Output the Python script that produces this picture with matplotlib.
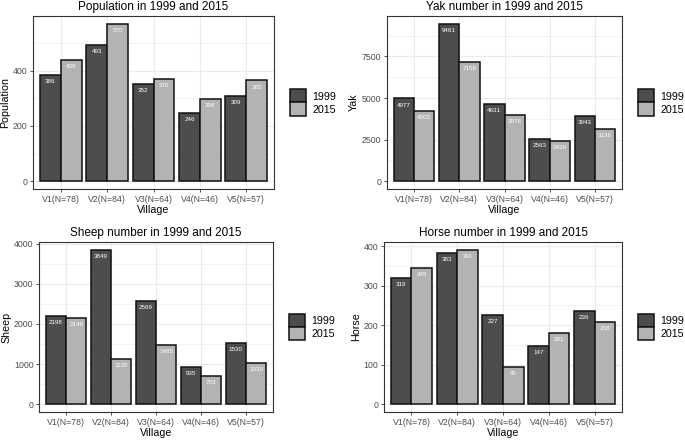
import numpy as np
import matplotlib.pyplot as plt
from matplotlib.patches import Patch
from matplotlib.ticker import AutoMinorLocator

plt.rcParams['font.family'] = ['Liberation Sans', 'DejaVu Sans']

villages = ["V1(N=78)", "V2(N=84)", "V3(N=64)", "V4(N=46)", "V5(N=57)"]
years = ["1999", "2015"]

pop_1999 = [386, 493, 352, 246, 309]
pop_2015 = [439, 570, 370, 298, 365]
yak_1999 = [4977, 9461, 4631, 2563, 3943]
yak_2015 = [4202, 7158, 3976, 2439, 3136]
sheep_1999 = [2198, 3849, 2569, 935, 1530]
sheep_2015 = [2149, 1135, 1485, 703, 1030]
horse_1999 = [319, 383, 227, 147, 236]
horse_2015 = [345, 391, 95, 181, 208]

panels = [
    ("Population in 1999 and 2015", "Population", pop_1999, pop_2015, [0, 200, 400], (33, 16, 274, 189)),
    ("Yak number in 1999 and 2015", "Yak", yak_1999, yak_2015, [0, 2500, 5000, 7500], (387, 16, 622, 189)),
    ("Sheep number in 1999 and 2015", "Sheep", sheep_1999, sheep_2015, [0, 1000, 2000, 3000, 4000], (39, 242, 273, 412)),
    ("Horse number in 1999 and 2015", "Horse", horse_1999, horse_2015, [0, 100, 200, 300, 400], (384, 242, 622, 412)),
]

colors = ["#4d4d4d", "#b3b3b3"]
W, H = 685, 440
fig = plt.figure(figsize=(W / 100, H / 100), dpi=100)

for title, ylab, v1, v2, yticks, (l, t, r, b) in panels:
    ax = fig.add_axes([l / W, 1 - b / H, (r - l) / W, (b - t) / H])
    x = np.arange(len(villages))
    bw = 0.45
    for k, vals in enumerate([v1, v2]):
        xs = x + (k - 0.5) * bw
        ax.bar(xs, vals, width=bw, color=colors[k], edgecolor="#111111", linewidth=1.1, zorder=3)
        for xi, v in zip(xs, vals):
            ax.annotate(str(v), (xi, v), xytext=(0, -3), textcoords="offset points",
                        ha="center", va="top", fontsize=4.5, color="white", zorder=4)
    vmax = max(max(v1), max(v2))
    ax.set_ylim(-0.05 * vmax, 1.05 * vmax)
    ax.set_xlim(-0.6, len(villages) - 0.4)
    ax.set_yticks(yticks)
    ax.yaxis.set_minor_locator(AutoMinorLocator(2))
    ax.set_xticks(x)
    ax.set_xticklabels(villages)
    ax.grid(which="major", color="#ebebeb", linewidth=0.8, zorder=0)
    ax.grid(which="minor", axis="y", color="#ebebeb", linewidth=0.4, zorder=0)
    ax.set_axisbelow(True)
    for s in ax.spines.values():
        s.set_color("#333333")
        s.set_linewidth(0.8)
    ax.tick_params(axis="both", which="major", labelsize=6.3, labelcolor="#4d4d4d",
                   color="#333333", length=2.5, width=0.6, pad=1.5)
    ax.tick_params(axis="both", which="minor", length=0)
    ax.set_title(title, fontsize=8.5, pad=4)
    ax.set_xlabel("Village", fontsize=7.7, labelpad=1)
    ax.set_ylabel(ylab, fontsize=7.7, labelpad=2)
    handles = [Patch(facecolor=c, edgecolor="#111111", linewidth=1.1) for c in colors]
    ax.legend(handles, years, loc="center left", bbox_to_anchor=(1 + 16 / (r - l), 0.5),
              frameon=False, fontsize=7.7, handlelength=1.5, handleheight=1.5,
              handletextpad=0.6, labelspacing=0.0, borderaxespad=0, borderpad=0)

fig.savefig("out.png", dpi=100)
